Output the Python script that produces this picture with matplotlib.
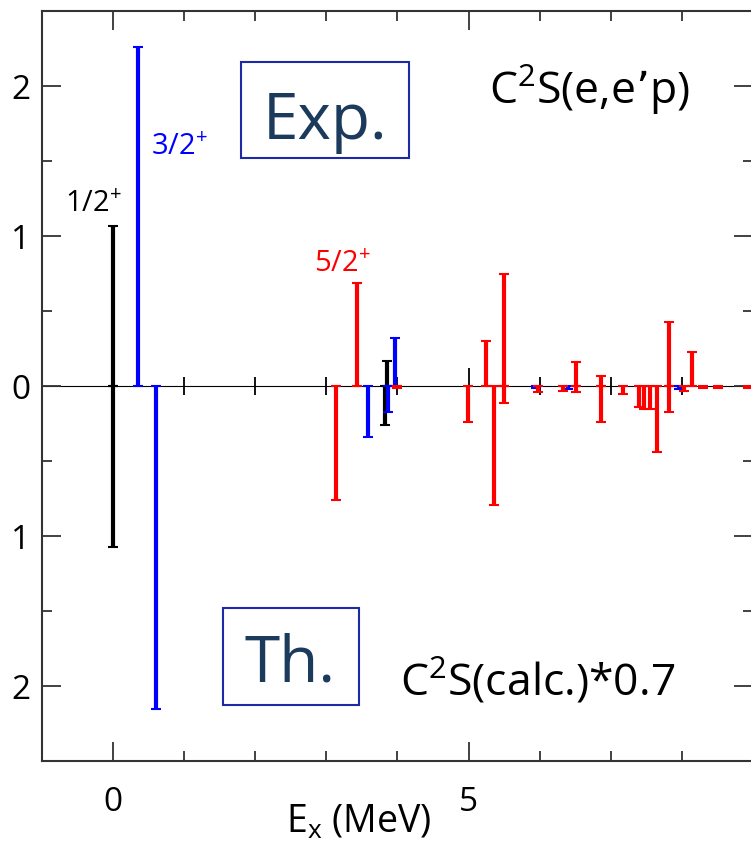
import numpy as np
import matplotlib
matplotlib.use("Agg")
import matplotlib.pyplot as plt
from matplotlib.ticker import (MultipleLocator, FixedLocator, FuncFormatter,
                               NullFormatter)
from matplotlib.patches import Rectangle

plt.rcParams['font.family'] = ['Open Sans', 'DejaVu Sans']
plt.rcParams['mathtext.default'] = 'regular'

# Spectroscopic strengths C^2S versus excitation energy (MeV).
# Measured (e,e'p) strengths, drawn upward.
exp_12_E = [0.00, 3.85]
exp_12_S = [1.07, 0.17]
exp_32_E = [0.36, 3.96]
exp_32_S = [2.26, 0.32]
exp_52_E = [3.43, 5.24, 5.50, 6.51, 6.86, 7.82, 8.14]
exp_52_S = [0.69, 0.30, 0.75, 0.16, 0.07, 0.43, 0.23]

# Calculated strengths scaled by 0.7, drawn downward.
th_12_E = [0.00, 3.83]
th_12_S = [1.07, 0.26]
th_32_E = [0.61, 3.58, 3.87, 5.95, 6.40, 7.95]
th_32_S = [2.15, 0.34, 0.17, 0.01, 0.02, 0.02]
th_52_E = [3.14, 3.99, 4.99, 5.35, 5.50, 5.98, 6.33, 6.51, 6.86, 7.17,
           7.40, 7.47, 7.55, 7.65, 7.82, 8.02, 8.30, 8.50, 8.93]
th_52_S = [0.76, 0.01, 0.24, 0.79, 0.11, 0.04, 0.03, 0.04, 0.24, 0.05,
           0.14, 0.15, 0.15, 0.44, 0.17, 0.03, 0.01, 0.01, 0.01]

spin_labels = ["1/2$^{+}$", "3/2$^{+}$", "5/2$^{+}$"]
spin_colors = ["black", "blue", "red"]
y_tick_values = [-2, -1, 0, 1, 2]


def stems(ax, energies, strengths, color, upward):
    e = np.asarray(energies, dtype=float)
    s = np.asarray(strengths, dtype=float)
    zero = np.zeros_like(s)
    yerr = [zero, s] if upward else [s, zero]
    ax.errorbar(e, zero, yerr=yerr, fmt='none', ecolor=color,
                elinewidth=3.0, capsize=3.6, capthick=1.5, zorder=3)


fig = plt.figure(figsize=(7.51, 8.51), dpi=100)
ax = fig.add_axes([0.0555, 0.1052, 0.9475, 0.8813])
ax.set_xlim(-1, 9)
ax.set_ylim(-2.5, 2.5)

groups = [
    (exp_12_E, exp_12_S, th_12_E, th_12_S, spin_colors[0]),
    (exp_32_E, exp_32_S, th_32_E, th_32_S, spin_colors[1]),
    (exp_52_E, exp_52_S, th_52_E, th_52_S, spin_colors[2]),
]
for eE, eS, tE, tS, c in groups:
    stems(ax, tE, tS, c, upward=False)
    stems(ax, eE, eS, c, upward=True)

# Zero line with crossing ticks
zax = ax.secondary_xaxis(0.5)
zax.spines['bottom'].set_linewidth(1.3)
zax.spines['bottom'].set_color('black')
zax.xaxis.set_major_locator(MultipleLocator(5))
zax.xaxis.set_minor_locator(MultipleLocator(1))
zax.xaxis.set_major_formatter(NullFormatter())
zax.xaxis.set_minor_formatter(NullFormatter())
zax.tick_params(which='both', labelbottom=False, labeltop=False)
zax.tick_params(which='major', direction='inout', length=26, width=1.3,
                color='black')
zax.tick_params(which='minor', direction='inout', length=13, width=1.3,
                color='black')

# Frame, ticks and labels
spine_col = '#333333'
for sp in ax.spines.values():
    sp.set_linewidth(1.5)
    sp.set_color(spine_col)
ax.xaxis.set_major_locator(MultipleLocator(5))
ax.xaxis.set_minor_locator(MultipleLocator(1))
ax.yaxis.set_major_locator(FixedLocator(y_tick_values))
ax.yaxis.set_minor_locator(MultipleLocator(0.5))
ax.yaxis.set_major_formatter(FuncFormatter(lambda v, p: f"{abs(v):g}"))
ax.tick_params(which='both', direction='in', top=True, right=True,
               color=spine_col, width=1.3)
ax.tick_params(which='major', length=14, labelsize=24)
ax.tick_params(which='minor', length=7)
ax.tick_params(axis='x', which='major', pad=18)
ax.tick_params(axis='y', which='major', pad=8)
ax.set_xlabel("E$_{x}$ (MeV)", fontsize=27)
ax.xaxis.set_label_coords(0.446, -0.056, transform=ax.transAxes)
ax.xaxis.label.set_va('top')

# Spin labels
ax.text(-0.67, 1.165, spin_labels[0], color=spin_colors[0], fontsize=21,
        ha='left', va='baseline')
ax.text(0.53, 1.547, spin_labels[1], color=spin_colors[1], fontsize=21,
        ha='left', va='baseline')
ax.text(2.82, 0.767, spin_labels[2], color=spin_colors[2], fontsize=21,
        ha='left', va='baseline')

# Panel captions
box_col = '#1c2aa8'
txt_col = '#1b3a5c'
ax.add_patch(Rectangle((1.80, 1.52), 2.364, 0.642, fill=False,
                       edgecolor=box_col, linewidth=1.5, zorder=4))
ax.text(2.98, 1.651, "Exp.", color=txt_col, fontsize=46,
        ha='center', va='baseline', zorder=5)
ax.add_patch(Rectangle((1.542, -2.125), 1.92, 0.65, fill=False,
                       edgecolor=box_col, linewidth=1.5, zorder=4))
ax.text(2.49, -1.965, "Th.", color=txt_col, fontsize=46,
        ha='center', va='baseline', zorder=5)

ax.text(5.29, 1.88, "C$^{2}$S(e,e\u2019p)", fontsize=32,
        ha='left', va='baseline')
ax.text(4.04, -2.06, "C$^{2}$S(calc.)*0.7", fontsize=32,
        ha='left', va='baseline')

fig.savefig("out.png", dpi=100)
